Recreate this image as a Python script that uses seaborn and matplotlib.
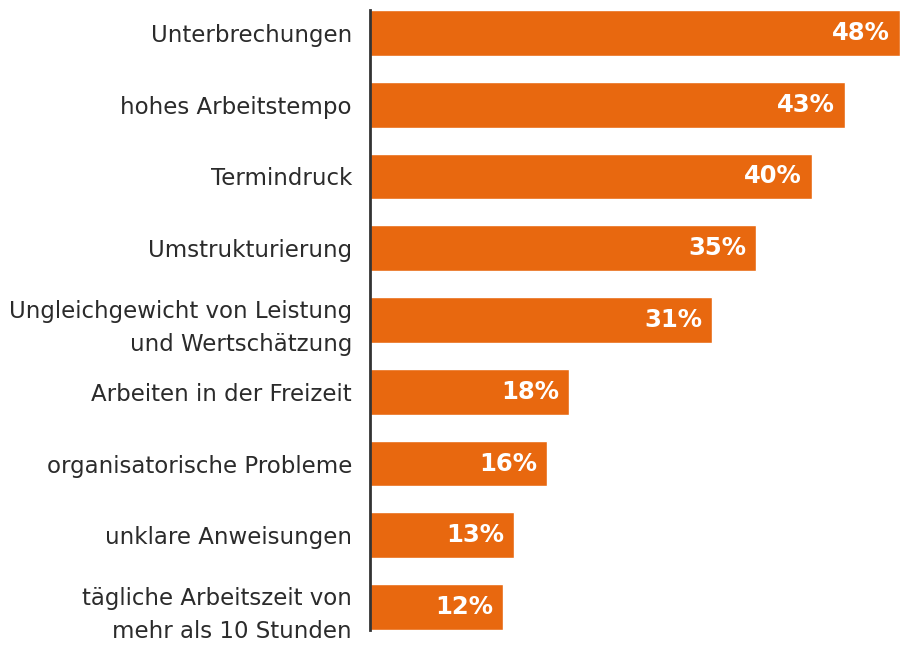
import matplotlib
matplotlib.use('Agg')
import matplotlib.pyplot as plt
import seaborn as sns
import pandas as pd

# Daten
kategorien = [
    'Unterbrechungen',
    'hohes Arbeitstempo',
    'Termindruck',
    'Umstrukturierung',
    'Ungleichgewicht von Leistung\nund Wertschätzung',
    'Arbeiten in der Freizeit',
    'organisatorische Probleme',
    'unklare Anweisungen',
    'tägliche Arbeitszeit von\nmehr als 10 Stunden',
]
werte = [48, 43, 40, 35, 31, 18, 16, 13, 12]

df = pd.DataFrame({'kategorie': kategorien, 'wert': werte})

sns.set_style('white')
plt.rcParams['font.family'] = ['DejaVu Sans']

orange = '#E8680F'

fig = plt.figure(figsize=(9, 6.5), dpi=100)
ax = fig.add_axes([370 / 900, 1 - 630 / 650, 530 / 900, 620 / 650])

sns.barplot(data=df, x='wert', y='kategorie', color=orange, width=0.64,
            saturation=1, ax=ax)

ax.set_xlim(0, 48)
ax.set_ylim(8.32, -0.32)
ax.set_xlabel('')
ax.set_ylabel('')
ax.set_xticks([])

for s in ['top', 'right', 'bottom']:
    ax.spines[s].set_visible(False)
ax.spines['left'].set_color('#333333')
ax.spines['left'].set_linewidth(2)

ax.tick_params(axis='y', length=0, pad=13, labelsize=16.5, labelcolor='#2b2b2b')
for lbl in ax.get_yticklabels():
    lbl.set_linespacing(1.6)
    lbl.set_horizontalalignment('right')

for i, v in enumerate(werte):
    ax.annotate(f'{v}%', xy=(v, i), xytext=(-7, 0), textcoords='offset points',
                ha='right', va='center', color='white', fontsize=17.5,
                fontweight='bold')

fig.savefig('out.png', dpi=100)
